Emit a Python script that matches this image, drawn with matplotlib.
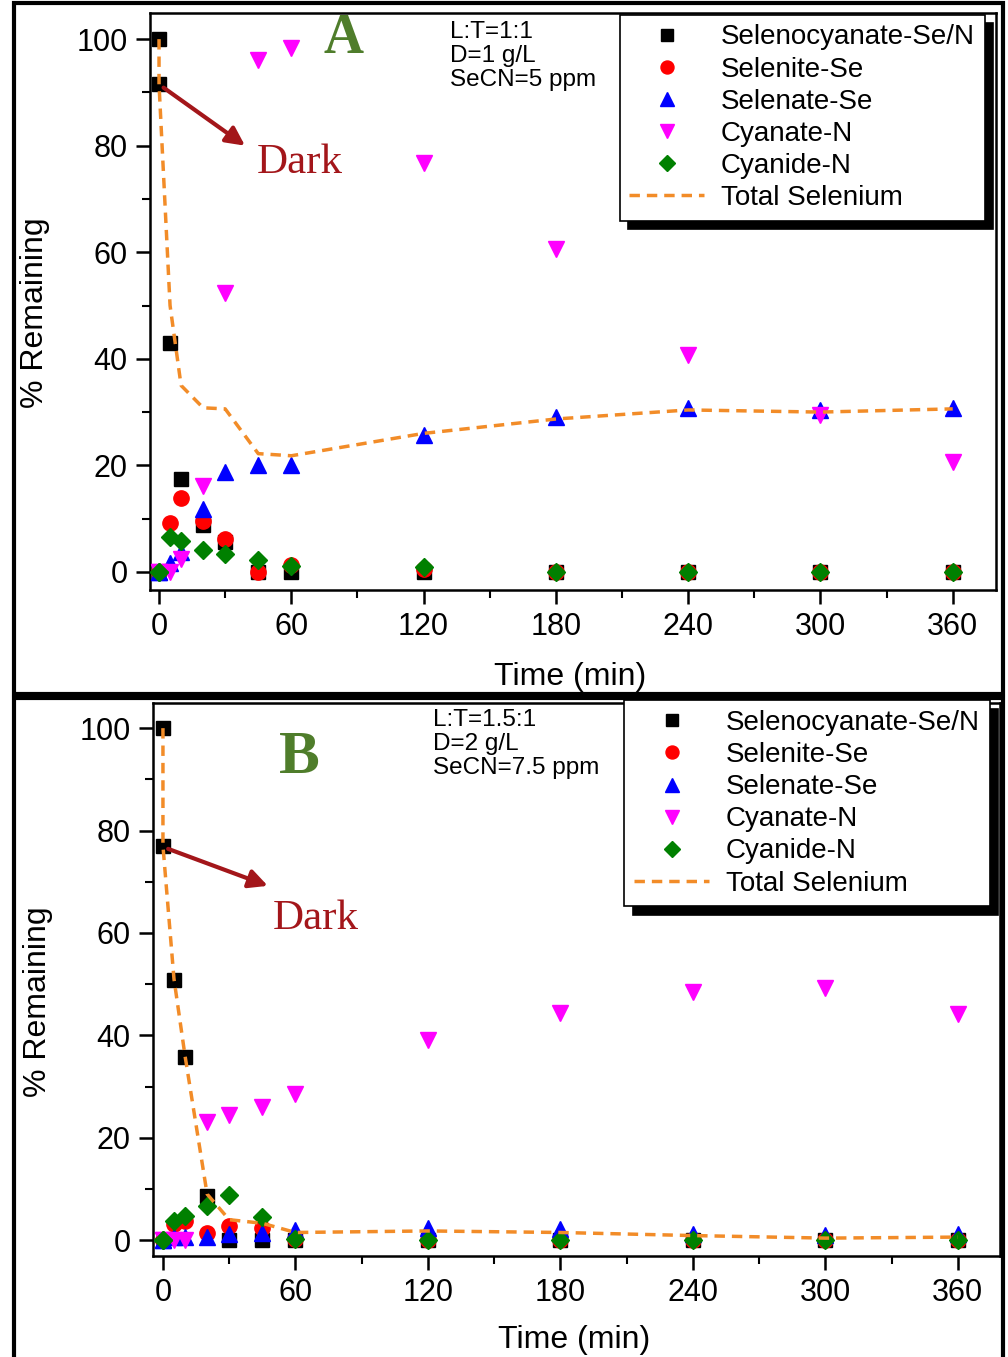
import matplotlib
matplotlib.use("Agg")
import matplotlib.pyplot as plt
from matplotlib.patches import Rectangle

plt.rcParams['font.family'] = ['Liberation Sans', 'DejaVu Sans']

# time axis (two points at t=0: start of dark phase and start of light phase)
time_min = [0, 0, 5, 10, 20, 30, 45, 60, 120, 180, 240, 300, 360]

# panel A : L:T=1:1, D=1 g/L, SeCN=5 ppm
secn_a = [100, 91.5, 43.0, 17.4, 8.8, 5.6, 0, 0, 0, 0, 0, 0, 0]
selenite_a = [0, 0, 9.2, 13.9, 9.6, 6.1, 0, 1.3, 0.5, 0, 0, 0, 0]
selenate_a = [0, 0, 1.7, 3.8, 11.9, 18.8, 20.1, 20.1, 25.7, 29.0, 30.7, 30.3, 30.7]
cyanate_a = [0, 0, 0, 2.4, 16.2, 52.4, 96.1, 98.4, 76.7, 60.7, 40.7, 29.5, 20.7]
cyanide_a = [0, 0, 6.5, 5.8, 4.2, 3.3, 2.2, 1.2, 0.9, 0, 0, 0, 0]
total_se_a = [100, 91.5, 50, 35, 30.8, 30.6, 22.2, 21.8, 26.0, 28.7, 30.4, 30.0, 30.6]

# panel B : L:T=1.5:1, D=2 g/L, SeCN=7.5 ppm
secn_b = [100, 77.0, 50.8, 35.8, 8.7, 0, 0, 0, 0, 0, 0, 0, 0]
selenite_b = [0, 0, 3.1, 3.7, 1.4, 2.8, 2.4, 0.3, 0, 0, 0, 0, 0]
selenate_b = [0, 0, 0.7, 0.7, 0.7, 1.3, 1.4, 1.9, 2.3, 2.1, 1.3, 1.0, 1.2]
cyanate_b = [0, 0, 0, 0, 23.0, 24.4, 26.1, 28.5, 39.1, 44.3, 48.5, 49.2, 44.1]
cyanide_b = [0, 0, 3.7, 4.7, 6.6, 8.8, 4.5, 0.2, 0, 0, 0, 0, 0]
total_se_b = [100, 77.0, 51, 36, 9, 4, 3.3, 1.5, 1.8, 1.5, 0.9, 0.4, 0.6]

labels = ["Selenocyanate-Se/N", "Selenite-Se", "Selenate-Se",
          "Cyanate-N", "Cyanide-N", "Total Selenium"]
x_ticks = [0, 60, 120, 180, 240, 300, 360]
y_ticks = [0, 20, 40, 60, 80, 100]

DARK_RED = "#a3161a"
LETTER_GREEN = "#4f7d2b"
ORANGE = "#f28c28"


def draw_panel(ax, series, total, letter, letter_xy, letter_size,
               cond_text, cond_xy, arrow_from, arrow_to, dark_xy, legend_anchor,
               xlim, ylim, ylabel_y, xlabel_y):
    secn, selenite, selenate, cyanate, cyanide = series
    ax.plot(time_min, secn, ls="none", marker="s", ms=9.5, color="black",
            label=labels[0], zorder=3)
    ax.plot(time_min, selenite, ls="none", marker="o", ms=11, color="red",
            label=labels[1], zorder=3)
    ax.plot(time_min, selenate, ls="none", marker="^", ms=12, color="blue",
            label=labels[2], zorder=3)
    ax.plot(time_min, cyanate, ls="none", marker="v", ms=12, color="magenta",
            label=labels[3], zorder=3)
    ax.plot(time_min, cyanide, ls="none", marker="D", ms=9, color="green",
            label=labels[4], zorder=3)
    ax.plot(time_min, total, ls=(0, (3, 2)), lw=2.5, color=ORANGE,
            label=labels[5], zorder=4)

    ax.set_xlim(*xlim)
    ax.set_ylim(*ylim)
    ax.set_xticks(x_ticks)
    ax.set_xticks(range(30, 361, 60), minor=True)
    ax.set_yticks(y_ticks)
    ax.set_yticks(range(10, 100, 20), minor=True)
    ax.tick_params(which="major", direction="out", length=10, width=1.8,
                   labelsize=22, pad=6)
    ax.tick_params(which="minor", direction="out", length=6, width=1.5)
    for s in ax.spines.values():
        s.set_linewidth(1.8)

    ax.set_xlabel("Time (min)", fontsize=23)
    ax.xaxis.set_label_coords(0.497, xlabel_y)
    ax.set_ylabel("% Remaining", fontsize=23)
    ax.yaxis.set_label_coords(-0.118, ylabel_y)

    leg = ax.legend(loc="upper right", bbox_to_anchor=legend_anchor,
                    borderaxespad=0, fontsize=20, frameon=True, fancybox=False,
                    edgecolor="black", handlelength=2.7, handletextpad=0.6,
                    labelspacing=0.22, borderpad=0.35, markerscale=0.85,
                    shadow={"color": "black", "alpha": 1, "ox": 6, "oy": -6})
    leg.get_frame().set_linewidth(1.2)

    ax.text(*letter_xy, letter, transform=ax.transAxes, ha="center", va="center",
            fontsize=letter_size, fontweight="bold", color=LETTER_GREEN,
            family="Liberation Serif")
    ax.text(*cond_xy, cond_text, transform=ax.transAxes, ha="left", va="top",
            fontsize=17.5, linespacing=1.12)
    ax.annotate("", xy=arrow_to, xytext=arrow_from,
                arrowprops=dict(arrowstyle="-|>", color=DARK_RED, lw=3,
                                mutation_scale=28, shrinkA=4, shrinkB=0))
    ax.text(*dark_xy, "Dark", ha="center", va="center", fontsize=31,
            color=DARK_RED, family="Liberation Serif")


fig = plt.figure(figsize=(10.08, 13.57), dpi=100)

ax_a = fig.add_axes([0.1488, 0.5652, 0.839, 0.4252])
draw_panel(ax_a, (secn_a, selenite_a, selenate_a, cyanate_a, cyanide_a), total_se_a,
           "A", (0.229, 0.955), 40,
           "L:T=1:1\nD=1 g/L\nSeCN=5 ppm", (0.355, 0.987),
           (0, 91.5), (39, 80), (64, 76.8), (0.987, 0.997),
           (-4.1, 379.5), (-3.4, 104.9), 0.48, -0.125)

ax_b = fig.add_axes([0.1518, 0.0744, 0.840, 0.4075])
draw_panel(ax_b, (secn_b, selenite_b, selenate_b, cyanate_b, cyanide_b), total_se_b,
           "B", (0.173, 0.90), 44,
           "L:T=1.5:1\nD=2 g/L\nSeCN=7.5 ppm", (0.331, 0.99),
           (0, 76.8), (47.5, 69.2), (69, 62.8), (0.988, 1.005),
           (-4.5, 379), (-3.1, 104.9), 0.46, -0.124)

# black frames around the two panels
for y0, h in [(0.4886, 0.509), (-0.01, 0.4956)]:
    fig.patches.append(Rectangle((0.0139, y0), 0.981, h, transform=fig.transFigure,
                                 fill=False, edgecolor="black", linewidth=3,
                                 zorder=10))

fig.savefig("out.png", dpi=100, facecolor="white")
